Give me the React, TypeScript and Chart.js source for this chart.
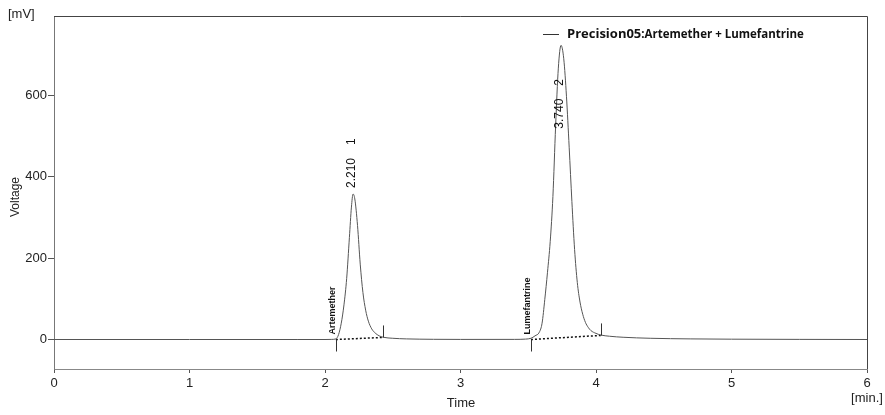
import { useEffect, useRef } from 'react';
import Chart from 'chart.js/auto';

// Chromatogram trace (time in min, voltage in mV)
const times = [0, 1.0, 1.8, 2.0, 2.05, 2.08, 2.1, 2.12, 2.14, 2.16, 2.18, 2.195, 2.207, 2.22, 2.24, 2.26, 2.28, 2.3, 2.32, 2.345, 2.37, 2.4, 2.43, 2.5, 2.6, 2.8, 3.0, 3.4, 3.48, 3.52, 3.55, 3.582, 3.602, 3.622, 3.642, 3.662, 3.682, 3.702, 3.722, 3.742, 3.762, 3.782, 3.802, 3.822, 3.842, 3.862, 3.882, 3.902, 3.922, 3.942, 3.962, 4.0, 4.035, 4.1, 4.2, 4.4, 4.7, 5.0, 5.5, 6.0];
const voltages = [0, 0, 0, 0, 0.3, 1.5, 12, 40, 85, 150, 250, 325, 357, 345, 280, 185, 115, 72, 45, 26, 16, 9, 5.5, 3, 1.5, 0.5, 0.2, 0.3, 1, 3, 9, 18, 40, 98, 165, 240, 351, 524, 666, 722, 689, 597, 472, 339, 221, 140, 92, 62, 42, 30, 22, 15, 11, 8, 5.5, 3, 1.5, 0.8, 0.3, 0];

// Peaks
const peakTimes = [2.21, 3.74];
const peakApexTimes = [2.207, 3.742];
const peakApexValues = [357, 722];
const peakNumbers = ['1', '2'];
const compoundNames = ['Artemether', 'Lumefantrine'];

// Integration baselines
const integStartT = [2.08, 3.52];
const integStartV = [0, 0];
const integEndT = [2.425, 4.035];
const integEndV = [5, 10];

// Axes
const xTicks = [0, 1, 2, 3, 4, 5, 6];
const yTicks = [0, 200, 400, 600];
const xMin = 0, xMax = 6, yMin = -72.4, yMax = 794;

const legendSeries = 'Precision05';
const legendRest = ':Artemether + Lumefantrine';

const FONT = 'Arial, "Liberation Sans", sans-serif';

const annotatePlugin = {
  id: 'annotate',
  afterDatasetsDraw(chart: any) {
    const { ctx, chartArea: a, scales } = chart;
    const x = scales.x, y = scales.y;
    ctx.save();
    // top and right border
    ctx.strokeStyle = '#444';
    ctx.lineWidth = 1;
    ctx.beginPath();
    ctx.moveTo(a.left, a.top + 0.5);
    ctx.lineTo(a.right + 0.5, a.top + 0.5);
    ctx.lineTo(a.right + 0.5, a.bottom);
    ctx.stroke();

    // integration ticks + compound names
    ctx.strokeStyle = '#333';
    for (let i = 0; i < integStartT.length; i++) {
      const sx = Math.round(x.getPixelForValue(integStartT[i])) + 0.5;
      const sy = y.getPixelForValue(integStartV[i]);
      const ex = Math.round(x.getPixelForValue(integEndT[i])) + 0.5;
      const ey = y.getPixelForValue(integEndV[i]);
      ctx.beginPath();
      ctx.moveTo(sx, sy);
      ctx.lineTo(sx, sy + 12);
      ctx.moveTo(ex, ey);
      ctx.lineTo(ex, ey - 12);
      ctx.stroke();

      ctx.save();
      ctx.translate(sx - 3.5, sy - 5);
      ctx.rotate(-Math.PI / 2);
      ctx.font = 'bold 9px ' + FONT;
      ctx.fillStyle = '#111';
      ctx.textAlign = 'left';
      ctx.textBaseline = 'middle';
      ctx.fillText(compoundNames[i], 0, 0);
      ctx.restore();
    }

    // peak labels
    ctx.font = '12px ' + FONT;
    ctx.fillStyle = '#111';
    for (let i = 0; i < peakTimes.length; i++) {
      const px = x.getPixelForValue(peakApexTimes[i]);
      const py = y.getPixelForValue(peakApexValues[i]);
      const tStr = peakTimes[i].toFixed(3);
      const w = ctx.measureText(tStr).width;
      const total = w + 13 + ctx.measureText(peakNumbers[i]).width;
      let base = py - 6;
      const minTop = a.top + 63;
      if (base - total < minTop) base = minTop + total;
      ctx.save();
      ctx.translate(px - 1, base);
      ctx.rotate(-Math.PI / 2);
      ctx.textAlign = 'left';
      ctx.textBaseline = 'middle';
      ctx.fillText(tStr, 0, 0);
      ctx.fillText(peakNumbers[i], w + 13, 0);
      ctx.restore();
    }

    // legend
    ctx.strokeStyle = '#333';
    ctx.beginPath();
    ctx.moveTo(543, 34.5);
    ctx.lineTo(559, 34.5);
    ctx.stroke();
    ctx.fillStyle = '#111';
    ctx.textAlign = 'left';
    ctx.textBaseline = 'middle';
    ctx.font = 'bold 13px "Open Sans", ' + FONT;
    ctx.fillText(legendSeries, 567, 34);
    const lw = ctx.measureText(legendSeries).width;
    ctx.font = 'bold 11.5px "Open Sans", ' + FONT;
    ctx.fillText(legendRest, 567 + lw, 35);

    // axis titles
    ctx.fillStyle = '#222';
    ctx.font = '13px ' + FONT;
    ctx.textAlign = 'left';
    ctx.fillText('[mV]', 8, 14);
    ctx.textAlign = 'center';
    ctx.fillText('Time', 461, 403);
    ctx.fillText('[min.]', 867, 398);
    ctx.save();
    ctx.translate(16, 197);
    ctx.rotate(-Math.PI / 2);
    ctx.font = '12px ' + FONT;
    ctx.fillText('Voltage', 0, 0);
    ctx.restore();
    ctx.restore();
  },
};

export default function App() {
  const ref = useRef<HTMLCanvasElement>(null);
  useEffect(() => {
    document.body.style.margin = '0';
    const trace = times.map((t, i) => ({ x: t, y: voltages[i] }));
    const integ = integStartT.map((t, i) => [
      { x: t, y: integStartV[i] },
      { x: integEndT[i], y: integEndV[i] },
    ]);
    const chart = new Chart(ref.current as HTMLCanvasElement, {
      type: 'line',
      data: {
        datasets: [
          {
            data: trace,
            borderColor: '#555',
            borderWidth: 1,
            pointRadius: 0,
            cubicInterpolationMode: 'monotone',
            fill: false,
          },
          ...integ.map((d) => ({
            data: d,
            borderColor: '#111',
            borderWidth: 1.5,
            borderDash: [2, 2],
            pointRadius: 0,
            fill: false,
          })),
        ],
      },
      options: {
        responsive: false,
        animation: false,
        events: [],
        layout: { padding: { top: 16, right: 18, left: 0, bottom: 0 } },
        plugins: { legend: { display: false }, tooltip: { enabled: false } },
        scales: {
          x: {
            type: 'linear',
            min: xMin,
            max: xMax,
            afterFit(s: any) {
              s.height = 46;
            },
            afterBuildTicks(s: any) {
              s.ticks = xTicks.map((v) => ({ value: v }));
            },
            ticks: {
              autoSkip: false,
              maxRotation: 0,
              padding: 3,
              color: '#222',
              font: { family: FONT, size: 13 },
              callback: (v: any) => String(v),
            },
            grid: { drawOnChartArea: false, drawTicks: true, tickLength: 4, color: '#555' },
            border: { display: true, color: '#888', width: 1 },
          },
          y: {
            type: 'linear',
            min: yMin,
            max: yMax,
            afterFit(s: any) {
              s.width = 54;
            },
            afterBuildTicks(s: any) {
              s.ticks = yTicks.map((v) => ({ value: v }));
            },
            ticks: {
              autoSkip: false,
              padding: 1,
              color: '#222',
              font: { family: FONT, size: 13 },
              callback: (v: any) => String(v),
            },
            grid: { drawOnChartArea: false, drawTicks: true, tickLength: 6, color: '#555' },
            border: { display: true, color: '#777', width: 1 },
          },
        },
      },
      plugins: [annotatePlugin],
    } as any);
    return () => chart.destroy();
  }, []);
  return (
    <div style={{ position: 'absolute', left: 0, top: 0, width: 885, height: 415, background: '#fff' }}>
      <canvas ref={ref} width={885} height={415} />
    </div>
  );
}
